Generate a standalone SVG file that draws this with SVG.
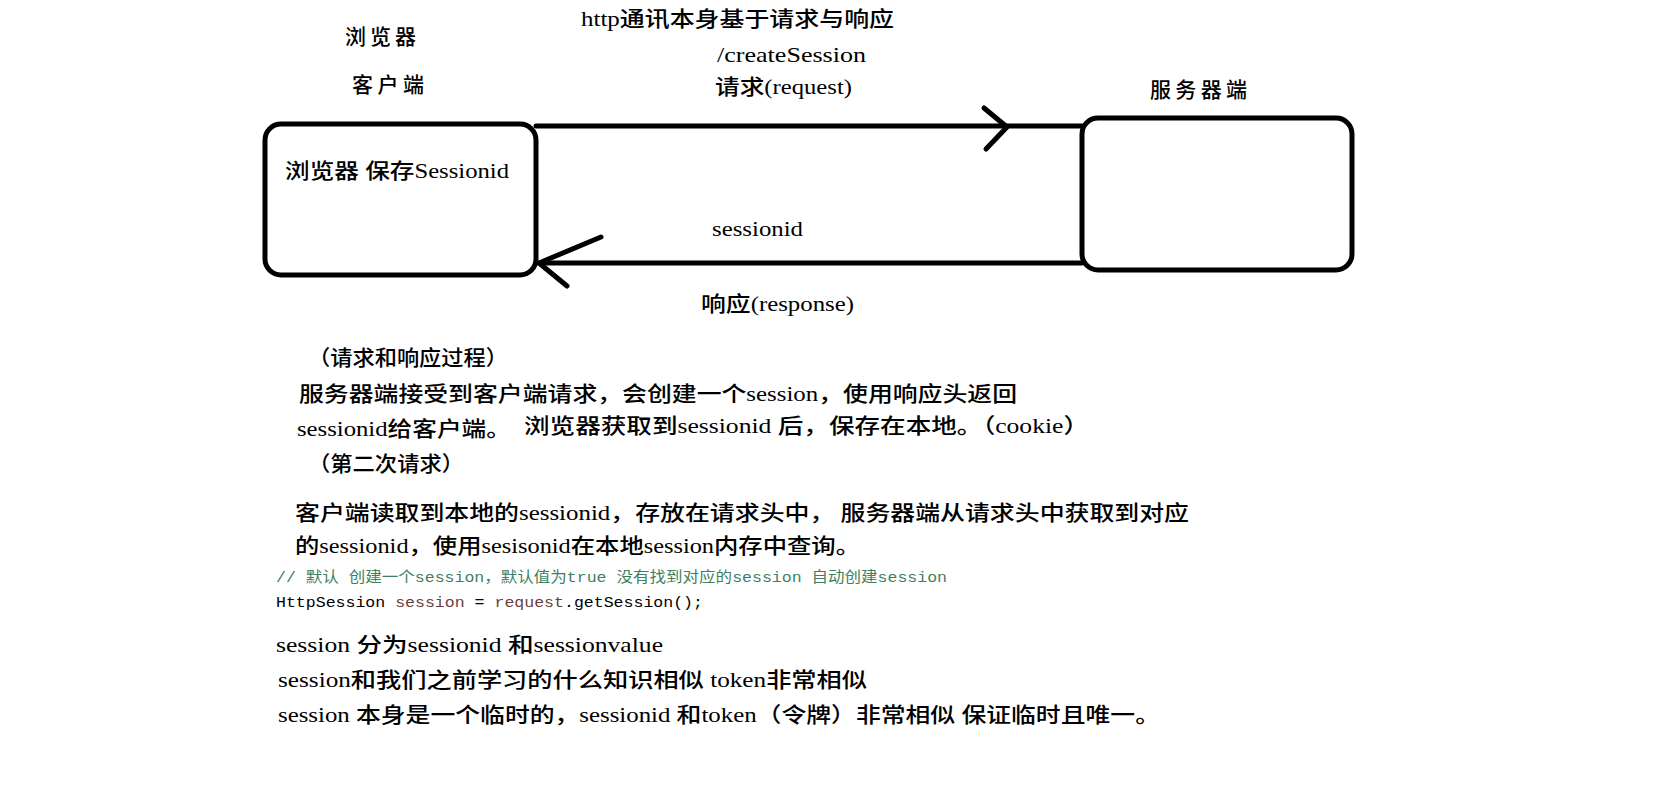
<svg xmlns="http://www.w3.org/2000/svg" width="1653" height="805" viewBox="0 0 1653 805">
<style>
.box{fill:none;stroke:#000;stroke-width:5}
.ln{fill:none;stroke:#000;stroke-width:5;stroke-linecap:round;stroke-linejoin:round}
.t{font-family:"Liberation Serif","Noto Sans CJK SC",serif;font-size:21px;font-weight:500;fill:#000}
.c{font-family:"Liberation Mono","Noto Sans CJK SC",monospace;font-size:15px;fill:#000}
.cm{fill:#3F7F5F}
.v{fill:#6A3E3E}
</style>
<rect width="1653" height="805" fill="#fff"/>
<g id="client">
  <rect class="box" x="265" y="124" width="271" height="151" rx="16"/>
  <text class="t" x="285" y="178" textLength="224" lengthAdjust="spacingAndGlyphs">浏览器 保存Sessionid</text>
</g>
<g id="server">
  <rect class="box" x="1082" y="118" width="270" height="152" rx="16"/>
</g>
<g id="connectors">
  <path class="ln" d="M536 126 H1082"/>
  <polyline class="ln" points="984,108 1007,127 986,149"/>
  <path class="ln" d="M539 263 H1082"/>
  <polyline class="ln" points="601,237 539,263 567,286"/>
</g>
<g id="labels">
  <text class="t" x="581" y="26" textLength="313" lengthAdjust="spacingAndGlyphs">http通讯本身基于请求与响应</text>
  <text class="t" x="345" y="44" textLength="71" lengthAdjust="spacing">浏览器</text>
  <text class="t" x="717" y="62" textLength="149" lengthAdjust="spacingAndGlyphs">/createSession</text>
  <text class="t" x="352" y="92" textLength="72" lengthAdjust="spacing">客户端</text>
  <text class="t" x="715" y="94" textLength="137" lengthAdjust="spacingAndGlyphs">请求(request)</text>
  <text class="t" x="1150" y="97" textLength="97" lengthAdjust="spacing">服务器端</text>
  <text class="t" x="712" y="236" textLength="91" lengthAdjust="spacingAndGlyphs">sessionid</text>
  <text class="t" x="701" y="311" textLength="153" lengthAdjust="spacingAndGlyphs">响应(response)</text>
</g>
<g id="notes">
  <text class="t" x="308" y="365" textLength="200" lengthAdjust="spacingAndGlyphs">（请求和响应过程）</text>
  <text class="t" x="299" y="401" textLength="718" lengthAdjust="spacingAndGlyphs">服务器端接受到客户端请求，会创建一个session，使用响应头返回</text>
  <text class="t" x="297" y="436" textLength="214" lengthAdjust="spacingAndGlyphs">sessionid给客户端。</text>
  <text class="t" x="524" y="433" textLength="565" lengthAdjust="spacingAndGlyphs">浏览器获取到sessionid 后，保存在本地。（cookie）</text>
  <text class="t" x="308" y="471" textLength="156" lengthAdjust="spacingAndGlyphs">（第二次请求）</text>
  <text class="t" x="295" y="520" textLength="894" lengthAdjust="spacingAndGlyphs">客户端读取到本地的sessionid，存放在请求头中， 服务器端从请求头中获取到对应</text>
  <text class="t" x="295" y="553" textLength="565" lengthAdjust="spacingAndGlyphs">的sessionid，使用sesisonid在本地session内存中查询。</text>
  <text class="c cm" x="276" y="582" textLength="671" lengthAdjust="spacingAndGlyphs">// 默认 创建一个session，默认值为true 没有找到对应的session 自动创建session</text>
  <text class="c" x="276" y="607" textLength="427" lengthAdjust="spacingAndGlyphs">HttpSession <tspan class="v">session</tspan> = <tspan class="v">request</tspan>.getSession();</text>
  <text class="t" x="276" y="652" textLength="387" lengthAdjust="spacingAndGlyphs">session  分为sessionid 和sessionvalue</text>
  <text class="t" x="278" y="687" textLength="589" lengthAdjust="spacingAndGlyphs">session和我们之前学习的什么知识相似 token非常相似</text>
  <text class="t" x="278" y="722" textLength="882" lengthAdjust="spacingAndGlyphs">session 本身是一个临时的，sessionid 和token（令牌）非常相似 保证临时且唯一。</text>
</g>
</svg>
